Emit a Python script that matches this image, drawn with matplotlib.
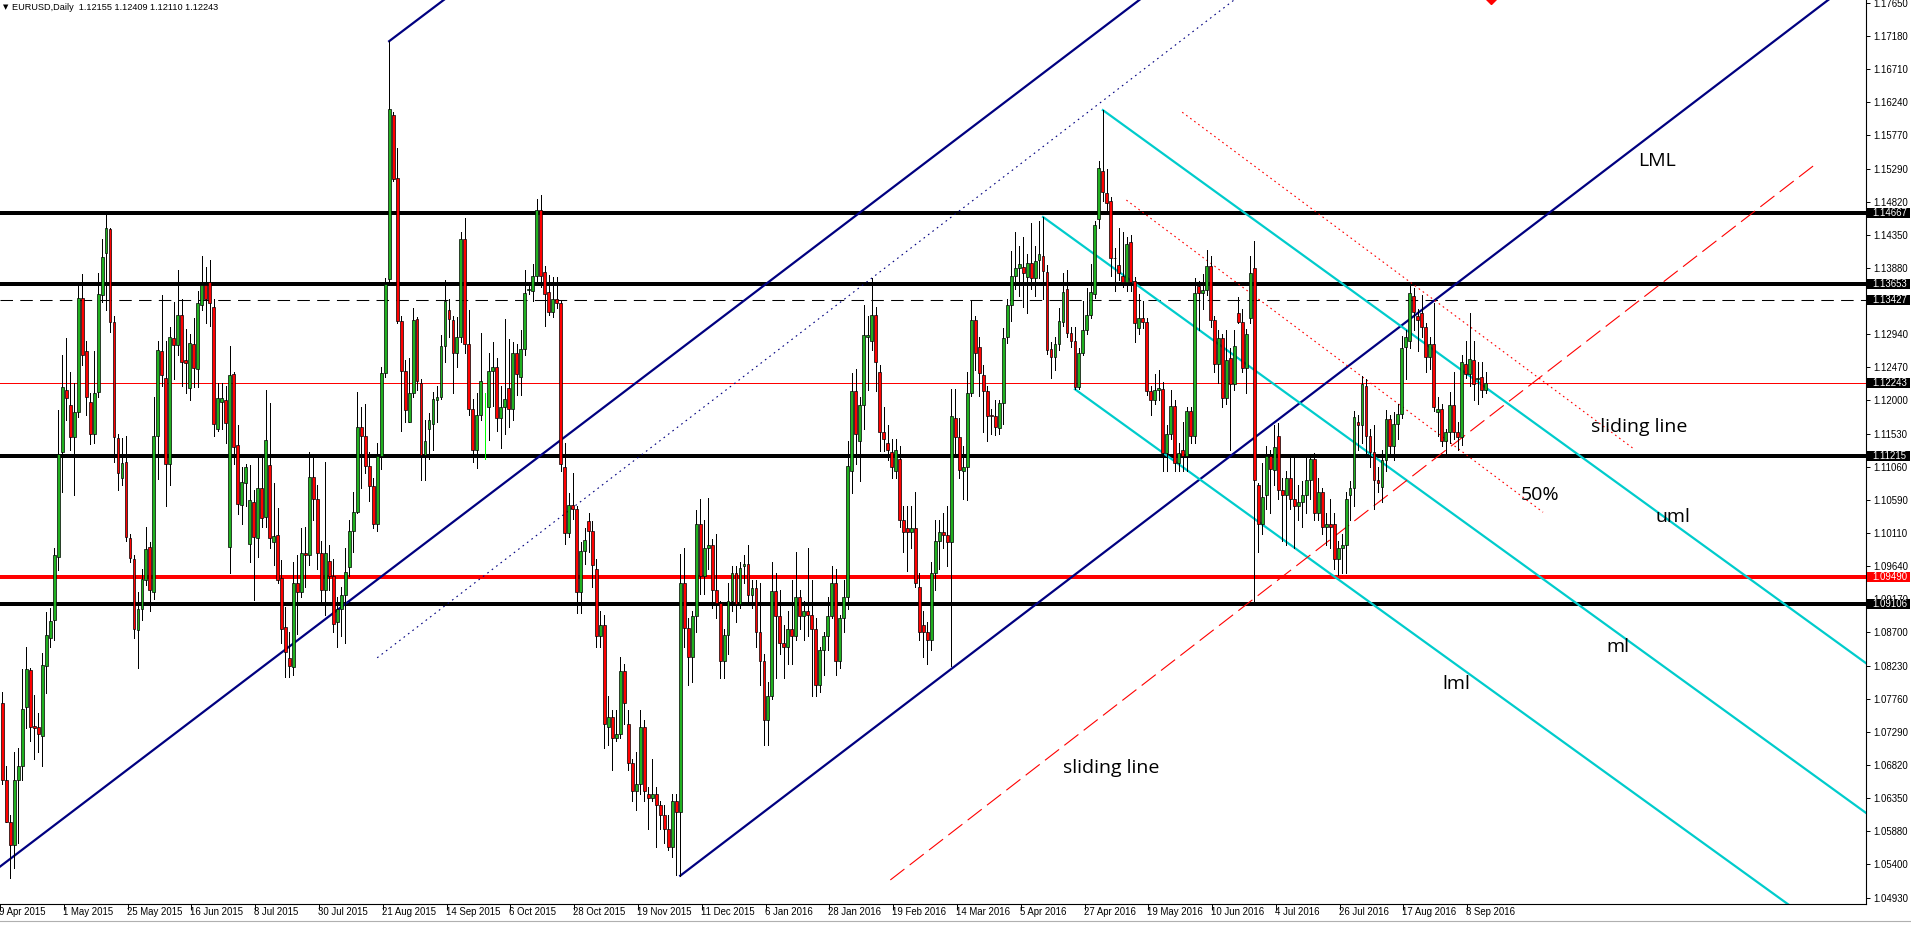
import numpy as np
import matplotlib
matplotlib.use("Agg")
import matplotlib.pyplot as plt
from matplotlib.patches import Rectangle
from matplotlib.transforms import blended_transform_factory

plt.rcParams['font.family'] = ['Liberation Sans', 'DejaVu Sans']

# EURUSD daily, 9 Apr 2015 .. 14 Sep 2016 (one value per bar)
opens = [
    1.0770, 1.0660, 1.0600, 1.0568, 1.0660, 1.0680, 1.0764, 1.0817, 1.0737, 1.0735,
    1.0723, 1.0822, 1.0862, 1.0888, 1.0977, 1.1127, 1.1215, 1.1194, 1.1148, 1.1183,
    1.1346, 1.1270, 1.1198, 1.1152, 1.1212, 1.1350, 1.1410, 1.1444, 1.1312, 1.1147,
    1.1090, 1.1113, 1.1005, 1.0975, 1.0874, 1.0903, 1.0944, 1.0992, 1.0927, 1.1150,
    1.1271, 1.1232, 1.1110, 1.1289, 1.1279, 1.1321, 1.1257, 1.1218, 1.1280, 1.1245,
    1.1336, 1.1364, 1.1369, 1.1333, 1.1160, 1.1198, 1.1201, 1.0992, 1.1238, 1.1137,
    1.1051, 1.1083, 1.0996, 1.1055, 1.1004, 1.1075, 1.1034, 1.1108, 1.0998, 1.1009,
    1.0948, 1.0878, 1.0834, 1.0821, 1.0941, 1.0928, 1.0983, 1.0980, 1.1091, 1.1060,
    1.0983, 1.0930, 1.0972, 1.0950, 1.0885, 1.0904, 1.0924, 1.0963, 1.1015, 1.1042,
    1.1162, 1.1150, 1.1107, 1.1078, 1.1025, 1.1121, 1.1239, 1.1373, 1.1606, 1.1517,
    1.1313, 1.1242, 1.1170, 1.1211, 1.1316, 1.1225, 1.1123, 1.1159, 1.1166, 1.1200,
    1.1205, 1.1277, 1.1329, 1.1315, 1.1267, 1.1290, 1.1430, 1.1280, 1.1188, 1.1130,
    1.1180, 1.1200, 1.1190, 1.1242, 1.1247, 1.1175, 1.1190, 1.1218, 1.1188, 1.1268,
    1.1233, 1.1273, 1.1357, 1.1355, 1.1377, 1.1471, 1.1383, 1.1354, 1.1326, 1.1345,
    1.1339, 1.1105, 1.1012, 1.1051, 1.1046, 1.0927, 1.0986, 1.1029, 1.1015, 1.0960,
    1.0865, 1.0880, 1.0735, 1.0750, 1.0720, 1.0725, 1.0815, 1.0740, 1.0685, 1.0645,
    1.0655, 1.0735, 1.0640, 1.0635, 1.0640, 1.0625, 1.0610, 1.0590, 1.0565, 1.0630,
    1.0615, 1.0940, 1.0876, 1.0835, 1.0894, 1.1025, 1.0950, 1.0990, 1.0995, 1.0930,
    1.0912, 1.0830, 1.0866, 1.0915, 1.0955, 1.0910, 1.0965, 1.0968, 1.0924, 1.0933,
    1.0871, 1.0830, 1.0745, 1.0780, 1.0929, 1.0893, 1.0855, 1.0850, 1.0875, 1.0865,
    1.0920, 1.0894, 1.0900, 1.0895, 1.0875, 1.0795, 1.0845, 1.0865, 1.0894, 1.0940,
    1.0830, 1.0890, 1.0920, 1.1100, 1.1213, 1.1143, 1.1193, 1.1290, 1.1285, 1.1322,
    1.1240, 1.1155, 1.1140, 1.1126, 1.1100, 1.1117, 1.1030, 1.1018, 1.1013, 1.1018,
    1.0935, 1.0880, 1.0870, 1.0860, 1.0955, 1.1000, 1.1013, 1.1008, 1.0998, 1.1175,
    1.1148, 1.1100, 1.1105, 1.1210, 1.1314, 1.1276, 1.1236, 1.1214, 1.1180, 1.1178,
    1.1161, 1.1197, 1.1290, 1.1336, 1.1377, 1.1388, 1.1390, 1.1376, 1.1395, 1.1374,
    1.1400, 1.1406, 1.1383, 1.1273, 1.1262, 1.1280, 1.1311, 1.1358, 1.1296, 1.1285,
    1.1219, 1.1268, 1.1300, 1.1322, 1.1351, 1.1458, 1.1526, 1.1495, 1.1483, 1.1403,
    1.1392, 1.1377, 1.1369, 1.1425, 1.1370, 1.1303, 1.1317, 1.1311, 1.1214, 1.1200,
    1.1215, 1.1217, 1.1125, 1.1153, 1.1192, 1.1111, 1.1130, 1.1121, 1.1185, 1.1150,
    1.1363, 1.1353, 1.1357, 1.1391, 1.1314, 1.1252, 1.1289, 1.1203, 1.1260, 1.1224,
    1.1325, 1.1312, 1.1246, 1.1318, 1.1388, 1.1080, 1.1025, 1.1065, 1.1121, 1.1101,
    1.1150, 1.1073, 1.1065, 1.1090, 1.1060, 1.1050, 1.1055, 1.1065, 1.1087, 1.1117,
    1.1040, 1.1070, 1.1020, 1.1025, 1.1025, 1.0975, 1.0990, 1.0995, 1.1066, 1.1075,
    1.1170, 1.1165, 1.1220, 1.1150, 1.1127, 1.1087, 1.1077, 1.1116, 1.1173, 1.1135,
    1.1167, 1.1181, 1.1276, 1.1284, 1.1349, 1.1320, 1.1325, 1.1304, 1.1262, 1.1281,
    1.1184, 1.1188, 1.1142, 1.1155, 1.1193, 1.1155, 1.1148, 1.1252, 1.1238, 1.1257,
    1.1231, 1.1234, 1.12155,
]
highs = [
    1.0785, 1.0680, 1.0610, 1.0700, 1.0706, 1.0818, 1.0849, 1.0820, 1.0781, 1.0756,
    1.0841, 1.0899, 1.0905, 1.0990, 1.1186, 1.1265, 1.1289, 1.1240, 1.1225, 1.1365,
    1.1380, 1.1285, 1.1210, 1.1270, 1.1381, 1.1430, 1.1466, 1.1445, 1.1320, 1.1153,
    1.1146, 1.1150, 1.1010, 1.0980, 1.0928, 1.0960, 1.1020, 1.0998, 1.1205, 1.1284,
    1.1350, 1.1284, 1.1305, 1.1340, 1.1385, 1.1345, 1.1302, 1.1294, 1.1318, 1.1356,
    1.1406, 1.1390, 1.1400, 1.1345, 1.1225, 1.1225, 1.1220, 1.1278, 1.1241, 1.1165,
    1.1105, 1.1110, 1.1108, 1.1072, 1.1120, 1.1124, 1.1215, 1.1197, 1.1083, 1.1047,
    1.0973, 1.0906, 1.0871, 1.0970, 1.0980, 1.1019, 1.1020, 1.1126, 1.1120, 1.1080,
    1.1000, 1.1113, 1.0995, 1.0975, 1.0920, 1.0935, 1.0990, 1.1030, 1.1070, 1.1212,
    1.1190, 1.1195, 1.1126, 1.1090, 1.1140, 1.1247, 1.1374, 1.1711, 1.1610, 1.1559,
    1.1320, 1.1257, 1.1260, 1.1332, 1.1319, 1.1230, 1.1172, 1.1182, 1.1212, 1.1221,
    1.1293, 1.1372, 1.1345, 1.1320, 1.1319, 1.1440, 1.1459, 1.1329, 1.1202, 1.1211,
    1.1296, 1.1211, 1.1267, 1.1283, 1.1260, 1.1221, 1.1316, 1.1287, 1.1283, 1.1280,
    1.1300, 1.1385, 1.1365, 1.1394, 1.1486, 1.1492, 1.1391, 1.1378, 1.1375, 1.1375,
    1.1342, 1.1140, 1.1068, 1.1097, 1.1050, 1.0999, 1.1019, 1.1040, 1.1029, 1.0975,
    1.0900, 1.0895, 1.0780, 1.0760, 1.0760, 1.0835, 1.0825, 1.0760, 1.0690, 1.0700,
    1.0760, 1.0745, 1.0650, 1.0690, 1.0650, 1.0630, 1.0625, 1.0610, 1.0640, 1.0640,
    1.0981, 1.0990, 1.0890, 1.0900, 1.1044, 1.1060, 1.1030, 1.1061, 1.1003, 1.1010,
    1.0915, 1.0875, 1.0940, 1.0965, 1.0965, 1.0970, 1.0980, 1.0995, 1.0945, 1.0945,
    1.0940, 1.0840, 1.0800, 1.0970, 1.0955, 1.0930, 1.0880, 1.0900, 1.0945, 1.0985,
    1.0930, 1.0915, 1.0990, 1.0945, 1.0890, 1.0850, 1.0870, 1.0920, 1.0965, 1.0960,
    1.0895, 1.0945, 1.1143, 1.1239, 1.1245, 1.1205, 1.1336, 1.1320, 1.1374, 1.1333,
    1.1250, 1.1191, 1.1165, 1.1145, 1.1145, 1.1135, 1.1050, 1.1050, 1.1050, 1.1070,
    1.0955, 1.0900, 1.0885, 1.0970, 1.1030, 1.1030, 1.1040, 1.1050, 1.1217, 1.1217,
    1.1175, 1.1135, 1.1240, 1.1341, 1.1320, 1.1290, 1.1250, 1.1220, 1.1188, 1.1200,
    1.1200, 1.1303, 1.1344, 1.1412, 1.1439, 1.1420, 1.1432, 1.1408, 1.1452, 1.1420,
    1.1455, 1.1461, 1.1392, 1.1283, 1.1290, 1.1331, 1.1382, 1.1386, 1.1305, 1.1305,
    1.1275, 1.1341, 1.1360, 1.1394, 1.1455, 1.1540, 1.1613, 1.1529, 1.1490, 1.1417,
    1.1445, 1.1440, 1.1432, 1.1435, 1.1375, 1.1351, 1.1342, 1.1318, 1.1220, 1.1238,
    1.1244, 1.1226, 1.1165, 1.1215, 1.1200, 1.1140, 1.1170, 1.1190, 1.1190, 1.1374,
    1.1370, 1.1380, 1.1414, 1.1405, 1.1320, 1.1300, 1.1295, 1.1300, 1.1275, 1.1300,
    1.1347, 1.1330, 1.1302, 1.1405, 1.1427, 1.1082, 1.1111, 1.1135, 1.1130, 1.1165,
    1.1168, 1.1090, 1.1100, 1.1120, 1.1120, 1.1080, 1.1085, 1.1120, 1.1120, 1.1125,
    1.1090, 1.1075, 1.1040, 1.1060, 1.1040, 1.1000, 1.1010, 1.1070, 1.1085, 1.1185,
    1.1180, 1.1235, 1.1230, 1.1160, 1.1165, 1.1105, 1.1130, 1.1187, 1.1180, 1.1183,
    1.1195, 1.1292, 1.1300, 1.1365, 1.1360, 1.1330, 1.1350, 1.1310, 1.1290, 1.1338,
    1.1205, 1.1195, 1.1160, 1.1212, 1.1240, 1.1170, 1.1264, 1.1285, 1.1324, 1.1285,
    1.1255, 1.1255, 1.12409,
]
lows = [
    1.0655, 1.0600, 1.0521, 1.0535, 1.0570, 1.0660, 1.0734, 1.0716, 1.0690, 1.0700,
    1.0680, 1.0784, 1.0850, 1.0860, 1.0959, 1.1070, 1.1172, 1.1130, 1.1065, 1.1177,
    1.1250, 1.1180, 1.1138, 1.1140, 1.1205, 1.1340, 1.1328, 1.1297, 1.1113, 1.1073,
    1.1080, 1.1000, 1.0970, 1.0862, 1.0820, 1.0888, 1.0938, 1.0900, 1.0917, 1.1088,
    1.1220, 1.1050, 1.1080, 1.1230, 1.1265, 1.1220, 1.1210, 1.1201, 1.1219, 1.1219,
    1.1328, 1.1310, 1.1306, 1.1150, 1.1157, 1.1160, 1.1140, 1.0955, 1.1110, 1.1038,
    1.1025, 1.1050, 1.0970, 1.0916, 1.0978, 1.1020, 1.1020, 1.0990, 1.0966, 1.0940,
    1.0855, 1.0807, 1.0807, 1.0810, 1.0868, 1.0921, 1.0935, 1.0966, 1.1030, 1.0960,
    1.0910, 1.0895, 1.0930, 1.0870, 1.0849, 1.0865, 1.0855, 1.0950, 1.0985, 1.1040,
    1.1076, 1.1097, 1.1057, 1.1019, 1.1015, 1.1103, 1.1234, 1.1365, 1.1512, 1.1310,
    1.1156, 1.1169, 1.1169, 1.1205, 1.1215, 1.1087, 1.1087, 1.1117, 1.1130, 1.1170,
    1.1202, 1.1254, 1.1290, 1.1211, 1.1247, 1.1283, 1.1267, 1.1179, 1.1113, 1.1104,
    1.1172, 1.1117, 1.1144, 1.1192, 1.1156, 1.1133, 1.1153, 1.1162, 1.1172, 1.1208,
    1.1208, 1.1265, 1.1352, 1.1342, 1.1370, 1.1362, 1.1306, 1.1322, 1.1319, 1.1332,
    1.1100, 1.0996, 1.1006, 1.1032, 1.0898, 1.0898, 1.0967, 1.0985, 1.0934, 1.0850,
    1.0850, 1.0705, 1.0710, 1.0675, 1.0715, 1.0720, 1.0740, 1.0675, 1.0630, 1.0617,
    1.0640, 1.0630, 1.0590, 1.0630, 1.0565, 1.0590, 1.0570, 1.0560, 1.0550, 1.0525,
    1.0524, 1.0850, 1.0795, 1.0800, 1.0870, 1.0925, 1.0925, 1.0960, 1.0905, 1.0890,
    1.0805, 1.0805, 1.0840, 1.0900, 1.0885, 1.0905, 1.0940, 1.0915, 1.0905, 1.0850,
    1.0795, 1.0710, 1.0710, 1.0775, 1.0805, 1.0840, 1.0805, 1.0825, 1.0825, 1.0860,
    1.0875, 1.0860, 1.0865, 1.0780, 1.0780, 1.0785, 1.0810, 1.0845, 1.0890, 1.0810,
    1.0820, 1.0870, 1.0904, 1.1069, 1.1110, 1.1085, 1.1160, 1.1215, 1.1272, 1.1214,
    1.1128, 1.1128, 1.1115, 1.1090, 1.1090, 1.1020, 1.0985, 1.0958, 1.0990, 1.0935,
    1.0860, 1.0835, 1.0825, 1.0845, 1.0930, 1.0960, 1.0990, 1.0965, 1.0822, 1.1120,
    1.1090, 1.1060, 1.1058, 1.1206, 1.1244, 1.1206, 1.1155, 1.1143, 1.1153, 1.1151,
    1.1153, 1.1167, 1.1282, 1.1313, 1.1358, 1.1348, 1.1333, 1.1325, 1.1358, 1.1348,
    1.1374, 1.1344, 1.1266, 1.1232, 1.1244, 1.1272, 1.1306, 1.1290, 1.1276, 1.1216,
    1.1216, 1.1265, 1.1295, 1.1317, 1.1346, 1.1445, 1.1483, 1.1465, 1.1377, 1.1356,
    1.1371, 1.1362, 1.1356, 1.1356, 1.1283, 1.1295, 1.1303, 1.1208, 1.1180, 1.1195,
    1.1200, 1.1100, 1.1100, 1.1145, 1.1100, 1.1100, 1.1100, 1.1100, 1.1140, 1.1140,
    1.1300, 1.1330, 1.1350, 1.1305, 1.1240, 1.1225, 1.1190, 1.1195, 1.1130, 1.1215,
    1.1310, 1.1240, 1.1210, 1.1310, 1.0912, 1.0985, 1.1010, 1.1045, 1.1040, 1.1080,
    1.1060, 1.1000, 1.0995, 1.1045, 1.0990, 1.1030, 1.1020, 1.1040, 1.1060, 1.1030,
    1.1030, 1.1010, 1.0995, 1.0990, 1.0960, 1.0952, 1.0955, 1.0955, 1.1030, 1.1050,
    1.1130, 1.1140, 1.1125, 1.1105, 1.1045, 1.1070, 1.1055, 1.1100, 1.1120, 1.1115,
    1.1145, 1.1175, 1.1230, 1.1275, 1.1300, 1.1270, 1.1290, 1.1240, 1.1245, 1.1185,
    1.1150, 1.1135, 1.1123, 1.1140, 1.1145, 1.1130, 1.1137, 1.1232, 1.1220, 1.1200,
    1.1195, 1.1205, 1.12110,
]
closes = [
    1.0660, 1.0600, 1.0568, 1.0660, 1.0680, 1.0761, 1.0818, 1.0735, 1.0734, 1.0725,
    1.0824, 1.0867, 1.0886, 1.0980, 1.1124, 1.1219, 1.1203, 1.1148, 1.1184, 1.1346,
    1.1265, 1.1205, 1.1152, 1.1211, 1.1352, 1.1404, 1.1445, 1.1312, 1.1148, 1.1097,
    1.1111, 1.1006, 1.0976, 1.0875, 1.0904, 1.0946, 1.0989, 1.0930, 1.1150, 1.1272,
    1.1236, 1.1110, 1.1290, 1.1279, 1.1322, 1.1255, 1.1253, 1.1282, 1.1246, 1.1338,
    1.1364, 1.1344, 1.1339, 1.1167, 1.1204, 1.1204, 1.1168, 1.1236, 1.1134, 1.1053,
    1.1084, 1.1106, 1.1059, 1.1006, 1.1075, 1.1033, 1.1144, 1.1004, 1.1007, 1.0945,
    1.0875, 1.0842, 1.0822, 1.0941, 1.0928, 1.0983, 1.0980, 1.1091, 1.1060, 1.0983,
    1.0930, 1.0983, 1.0950, 1.0882, 1.0904, 1.0924, 1.0956, 1.1015, 1.1042, 1.1162,
    1.1150, 1.1107, 1.1078, 1.1025, 1.1121, 1.1239, 1.1365, 1.1614, 1.1515, 1.1313,
    1.1242, 1.1186, 1.1211, 1.1315, 1.1228, 1.1123, 1.1143, 1.1172, 1.1202, 1.1205,
    1.1277, 1.1342, 1.1316, 1.1267, 1.1290, 1.1430, 1.1280, 1.1188, 1.1130, 1.1180,
    1.1228, 1.1200, 1.1242, 1.1247, 1.1175, 1.1190, 1.1202, 1.1188, 1.1268, 1.1237,
    1.1273, 1.1353, 1.1359, 1.1377, 1.1471, 1.1377, 1.1352, 1.1326, 1.1344, 1.1339,
    1.1110, 1.1012, 1.1051, 1.1046, 1.0927, 1.0986, 1.1002, 1.1015, 1.0966, 1.0865,
    1.0880, 1.0740, 1.0750, 1.0720, 1.0725, 1.0815, 1.0770, 1.0685, 1.0645, 1.0655,
    1.0735, 1.0645, 1.0635, 1.0640, 1.0625, 1.0610, 1.0590, 1.0565, 1.0630, 1.0615,
    1.0940, 1.0876, 1.0835, 1.0894, 1.1025, 1.0950, 1.0990, 1.0995, 1.0930, 1.0912,
    1.0830, 1.0866, 1.0915, 1.0955, 1.0910, 1.0962, 1.0968, 1.0924, 1.0933, 1.0871,
    1.0830, 1.0745, 1.0780, 1.0929, 1.0893, 1.0855, 1.0850, 1.0875, 1.0865, 1.0920,
    1.0894, 1.0900, 1.0895, 1.0875, 1.0795, 1.0845, 1.0865, 1.0894, 1.0940, 1.0830,
    1.0890, 1.0920, 1.1107, 1.1213, 1.1153, 1.1193, 1.1293, 1.1293, 1.1321, 1.1254,
    1.1155, 1.1145, 1.1130, 1.1105, 1.1130, 1.1030, 1.1013, 1.1013, 1.1018, 1.0940,
    1.0870, 1.0870, 1.0860, 1.0955, 1.1000, 1.1013, 1.1008, 1.0998, 1.1178, 1.1148,
    1.1101, 1.1105, 1.1210, 1.1314, 1.1267, 1.1239, 1.1214, 1.1178, 1.1178, 1.1162,
    1.1197, 1.1289, 1.1336, 1.1377, 1.1388, 1.1394, 1.1381, 1.1395, 1.1374, 1.1398,
    1.1408, 1.1384, 1.1272, 1.1262, 1.1281, 1.1313, 1.1354, 1.1296, 1.1285, 1.1219,
    1.1268, 1.1300, 1.1322, 1.1354, 1.1449, 1.1531, 1.1496, 1.1481, 1.1402, 1.1402,
    1.1381, 1.1369, 1.1423, 1.1369, 1.1310, 1.1317, 1.1311, 1.1214, 1.1200, 1.1215,
    1.1218, 1.1125, 1.1153, 1.1192, 1.1111, 1.1125, 1.1121, 1.1185, 1.1150, 1.1353,
    1.1353, 1.1357, 1.1391, 1.1314, 1.1252, 1.1289, 1.1203, 1.1258, 1.1224, 1.1278,
    1.1312, 1.1246, 1.1295, 1.1382, 1.1087, 1.1025, 1.1063, 1.1121, 1.1103, 1.1134,
    1.1073, 1.1065, 1.1090, 1.1060, 1.1050, 1.1055, 1.1065, 1.1087, 1.1117, 1.1040,
    1.1070, 1.1020, 1.1025, 1.1020, 1.0975, 1.0990, 1.0995, 1.1060, 1.1075, 1.1176,
    1.1165, 1.1223, 1.1150, 1.1127, 1.1087, 1.1083, 1.1116, 1.1173, 1.1135, 1.1167,
    1.1181, 1.1274, 1.1290, 1.1353, 1.1326, 1.1315, 1.1305, 1.1262, 1.1281, 1.1191,
    1.1188, 1.1142, 1.1155, 1.1193, 1.1155, 1.1148, 1.1254, 1.1238, 1.1259, 1.1224,
    1.1232, 1.1215, 1.12243,
]

# one date label every 16 bars, starting at bar 0
date_labels = [
    "9 Apr 2015", "1 May 2015", "25 May 2015", "16 Jun 2015", "8 Jul 2015",
    "30 Jul 2015", "21 Aug 2015", "14 Sep 2015", "6 Oct 2015", "28 Oct 2015",
    "19 Nov 2015", "11 Dec 2015", "6 Jan 2016", "28 Jan 2016", "19 Feb 2016",
    "14 Mar 2016", "5 Apr 2016", "27 Apr 2016", "19 May 2016", "10 Jun 2016",
    "4 Jul 2016", "26 Jul 2016", "17 Aug 2016", "8 Sep 2016",
]
bars_per_label = 16

price_ticks = [
    1.17650, 1.17180, 1.16710, 1.16240, 1.15770, 1.15290, 1.14820, 1.14350,
    1.13880, 1.13410, 1.12940, 1.12470, 1.12000, 1.11530, 1.11060, 1.10590,
    1.10110, 1.09640, 1.09170, 1.08700, 1.08230, 1.07760, 1.07290, 1.06820,
    1.06350, 1.05880, 1.05400, 1.04930,
]

levels_black = [1.14667, 1.13653, 1.11215, 1.09106]
level_dashed = 1.13427
level_red = 1.09490
last_price = 1.12243

# chart objects: two anchor points (bar, price)
navy_rays = [
    [(-5, 1.0518), (285, 1.1769)],
    [(97, 1.1711), (111, 1.1771)],
    [(170, 1.0524), (458, 1.1770)],
]
navy_median = [(94, 1.0834), (309, 1.1770)]
cyan_rays = [
    [(276, 1.1613), (467, 1.0828)],
    [(261, 1.1461), (467, 1.0615)],
    [(269, 1.1216), (446, 1.0491)],
]
red_dotted = [
    [(295.9, 1.1610), (409.2, 1.1131)],
    [(281.9, 1.1485), (386.4, 1.1041)],
]
red_dashed = [(222.7, 1.0518), (455.4, 1.1539)]

notes = [
    ("LML", 410.2, 1.1541),
    ("sliding line", 398.4, 1.1162),
    ("50%", 380.9, 1.1066),
    ("uml", 414.7, 1.1034),
    ("ml", 402.4, 1.0849),
    ("lml", 361.2, 1.0797),
    ("sliding line", 265.9, 1.0677),
]

title = "EURUSD,Daily  1.12155 1.12409 1.12110 1.12243"

# ---------------------------------------------------------------
W, H = 1911, 925
fig = plt.figure(figsize=(W / 100, H / 100), dpi=100)
ax = fig.add_axes([0, (H - 904) / H, 1866 / W, 904 / H])
ax.set_xlim(0.925, 467.4)
ax.set_ylim(1.04838, 1.17696)

o = np.array(opens)
h = np.array(highs)
l = np.array(lows)
c = np.array(closes)
x = np.arange(len(c))

bull_col = "#20b020"
bear_col = "#ff0000"

# horizontal levels
for lv in levels_black:
    ax.axhline(lv, color="black", lw=1.5, zorder=1, antialiased=False)
ax.axhline(level_dashed, color="black", lw=0.75, ls=(0, (12, 7)), zorder=1)
ax.axhline(level_red, color="#ff0000", lw=1.5, zorder=1, antialiased=False)
ax.axhline(last_price, color="#ff0000", lw=0.7, zorder=1, antialiased=False)


def ray(p1, p2, x_end=600):
    (x1, y1), (x2, y2) = p1, p2
    k = (y2 - y1) / (x2 - x1)
    return [x1, x_end], [y1, y1 + k * (x_end - x1)]


for a, b in navy_rays:
    xs, ys = ray(a, b)
    ax.plot(xs, ys, color="#000080", lw=1.6, zorder=2)
xs, ys = ray(*navy_median)
ax.plot(xs, ys, color="#000080", lw=0.8, ls=(0, (1.5, 3.5)), zorder=2)

for a, b in cyan_rays:
    xs, ys = ray(a, b)
    ax.plot(xs, ys, color="#00cccc", lw=1.6, zorder=2)

for a, b in red_dotted:
    ax.plot([a[0], b[0]], [a[1], b[1]], color="#ff0000", lw=0.8,
            ls=(0, (1.5, 3)), zorder=2)
ax.plot([red_dashed[0][0], red_dashed[1][0]], [red_dashed[0][1], red_dashed[1][1]],
        color="#ff0000", lw=0.8, ls=(0, (16, 6)), zorder=2)

# candles
doji = o == c
wick_cols = np.where(doji, "#00ff00", "black")
ax.vlines(x, l, h, colors=wick_cols, lw=0.62, zorder=3, antialiased=False)
up = c > o
body_lo = np.minimum(o, c)
body_h = np.abs(c - o)
nd = ~doji
ax.bar(x[nd], body_h[nd], bottom=body_lo[nd], width=0.72,
       color=np.where(up[nd], bull_col, bear_col), edgecolor="black",
       linewidth=0.5, zorder=4)

# red marker cut by the top edge
ax.plot([373.4], [1.1772], marker="D", color="#ff0000", ms=6, zorder=5)

for txt, xi, pi in notes:
    ax.text(xi, pi, txt, fontsize=14, family=["Open Sans", "DejaVu Sans"],
            color="black", ha="left", va="center", zorder=6)

# axes frame
for side in ("top", "left"):
    ax.spines[side].set_visible(False)
for side in ("right", "bottom"):
    ax.spines[side].set_linewidth(0.8)
    ax.spines[side].set_color("black")

ax.yaxis.tick_right()
ax.set_yticks(price_ticks)
ax.set_yticklabels([f"{v:.5f}" for v in price_ticks])
ax.tick_params(axis="y", length=3, width=0.7, pad=2, labelsize=6.9,
               colors="black")

tick_pos = [k * bars_per_label - 0.6 for k in range(len(date_labels))]
ax.set_xticks(tick_pos)
ax.set_xticklabels([])
ax.tick_params(axis="x", length=4, width=0.7, colors="black")
for pos, lab in zip(tick_pos, date_labels):
    ax.annotate(lab, xy=(pos, 0), xycoords=("data", "axes fraction"),
                xytext=(-1, -3), textcoords="offset pixels", ha="left",
                va="top", fontsize=6.9, annotation_clip=False)

# value boxes on the price scale
box_tr = blended_transform_factory(ax.transAxes, ax.transData)
box_w = (W - 1868) / 1866
box_h = 10 * (1.17696 - 1.04838) / 904
boxes = [(v, "black") for v in levels_black + [level_dashed, last_price]]
boxes.append((level_red, "#ff0000"))
for v, col in boxes:
    ax.add_patch(Rectangle((1.0 + 1.5 / 1866, v - box_h / 2), box_w, box_h,
                           transform=box_tr, facecolor=col, edgecolor="none",
                           clip_on=False, zorder=7))
    ax.text(1.0 + 6 / 1866, v, f"{v:.5f}", transform=box_tr, color="white",
            fontsize=6.9, va="center", ha="left", clip_on=False, zorder=8)

# title line
fig.text(3 / W, 1 - 7 / H, "\u25bc", fontsize=5, va="center", ha="left",
         family=["DejaVu Sans"])
fig.text(12 / W, 1 - 7 / H, title, fontsize=6.6, va="center", ha="left")

# tab strip edge at the bottom
fig.add_artist(plt.Line2D([0, 1], [1 - 921 / H, 1 - 921 / H], color="#b0b0b0",
                          lw=0.8, transform=fig.transFigure))

fig.savefig("out.png", dpi=100, facecolor="white")
